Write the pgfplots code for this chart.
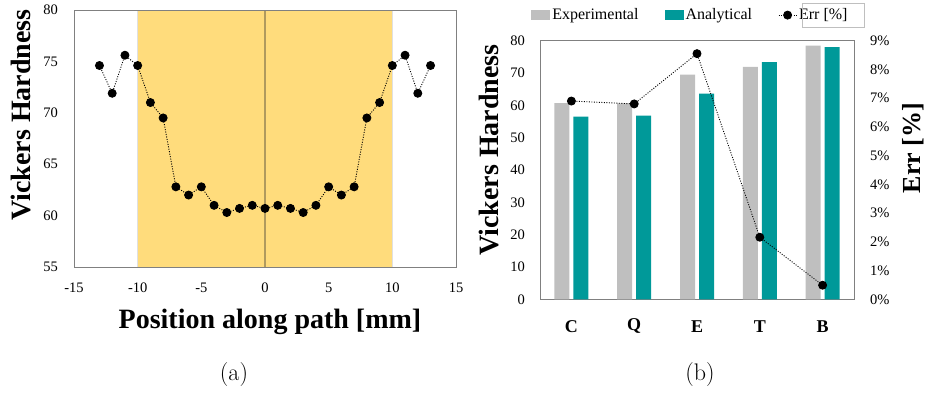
\documentclass[border=0pt]{standalone}
\usepackage{fontspec}
\newfontfamily\cf{Liberation Serif}
\usepackage{pgfplots}
\pgfplotsset{compat=1.18}
\definecolor{shade}{HTML}{FFDC7C}
\definecolor{zline}{HTML}{B09A5E}
\definecolor{expc}{HTML}{BFBFBF}
\definecolor{anac}{HTML}{009999}
\definecolor{framec}{HTML}{808080}
\pgfplotsset{
  common/.style={scale only axis,
    axis line style={draw=framec, line width=0.8pt},
    major tick length=0pt, tick style={draw=none},
    /pgf/number format/assume math mode=true,
    ticklabel style={font=\cf\fontsize{14.5}{14.5}\selectfont, inner sep=0pt}},
  errline/.style={black, dash pattern=on 1pt off 1.5pt, line width=0.9pt,
    mark=*, mark size=4pt, mark options={solid, fill=black}},
  errleg/.style={legend image code/.code={\draw[black, dash pattern=on 1pt off 1.5pt, line width=0.9pt, mark=*, mark size=4pt, mark options={solid, fill=black}, mark repeat=2, mark phase=2] plot coordinates {(0pt,0pt) (9pt,0pt) (18pt,0pt)};}},
}
\begin{document}
\begin{tikzpicture}
\path[use as bounding box] (0pt,0pt) rectangle (926pt,392pt);

% ---------- (a) ----------
\begin{axis}[common, at={(74pt,125pt)}, anchor=south west, width=382pt, height=257pt,
  xmin=-15, xmax=15, ymin=55, ymax=80,
  xtick={-15,-10,...,15}, ytick={55,60,...,80},
  xticklabel style={anchor=center, yshift=-21pt},
  yticklabel style={anchor=east, xshift=-16pt},
  axis on top]
  \addplot[fill=shade, draw=black!12, line width=0.8pt] coordinates {(-10,55) (-10,80) (10,80) (10,55)} -- cycle;
  \addplot[zline, line width=1.5pt] coordinates {(0,55) (0,80)};
  \addplot[errline] coordinates {
    (-13,74.6) (-12,71.9) (-11,75.6) (-10,74.6) (-9,71.0) (-8,69.5)
    (-7,62.8) (-6,62.0) (-5,62.8) (-4,61.0) (-3,60.3) (-2,60.7) (-1,61.0)
    (0,60.7) (1,61.0) (2,60.7) (3,60.3) (4,61.0) (5,62.8) (6,62.0) (7,62.8)
    (8,69.5) (9,71.0) (10,74.6) (11,75.6) (12,71.9) (13,74.6)};
  \draw[black!75, line width=0.9pt] (rel axis cs:0,0) -- (rel axis cs:1,0);
\end{axis}

% ---------- (b) bars ----------
\begin{axis}[common, at={(540pt,92.7pt)}, anchor=south west, width=314pt, height=258.6pt,
  xmin=-0.5, xmax=4.5, ymin=0, ymax=80,
  xtick={0,...,4}, xticklabels={C,Q,E,T,B}, ytick={0,10,...,80},
  xticklabel style={anchor=center, yshift=-27pt, font=\cf\bfseries\fontsize{18}{18}\selectfont},
  yticklabel style={anchor=east, xshift=-15pt},
  legend columns=3,
  legend style={at={(0.479,1.099)}, anchor=center, draw=none, fill=none,
    font=\cf\fontsize{16}{16}\selectfont, cells={anchor=west},
    /tikz/every even column/.append style={column sep=24pt}}]
  \addplot[ybar, fill=expc, draw=none, bar width=15pt, bar shift=-9.5pt,
    legend image code/.code={\fill[expc] (0pt,-5pt) rectangle (19pt,5pt);}]
    coordinates {(0,60.7) (1,60.6) (2,69.5) (3,71.9) (4,78.5)};
  \addlegendentry{Experimental}
  \addplot[ybar, fill=anac, draw=none, bar width=15pt, bar shift=9.5pt,
    legend image code/.code={\fill[anac] (0pt,-5pt) rectangle (19pt,5pt);}]
    coordinates {(0,56.5) (1,56.8) (2,63.6) (3,73.4) (4,78.0)};
  \addlegendentry{Analytical}
  \addlegendimage{errleg}
  \addlegendentry{Err [\%]}
\end{axis}

% ---------- (b) error axis ----------
\begin{axis}[common, at={(540pt,92.7pt)}, anchor=south west, width=314pt, height=258.6pt,
  xmin=-0.5, xmax=4.5, ymin=0, ymax=9,
  axis x line=none, axis y line*=right, ytick={0,...,9},
  yticklabel={\pgfmathprintnumber{\tick}\%},
  yticklabel style={anchor=west, xshift=16pt}]
  \addplot[errline] coordinates {(0,6.9) (1,6.8) (2,8.55) (3,2.16) (4,0.49)};
\end{axis}

\draw[black!25, line width=0.6pt] (802pt,365pt) rectangle (864pt,389pt);

% ---------- labels ----------
\node[rotate=90, font=\cf\bfseries\fontsize{28}{28}\selectfont] at (21pt,277pt) {Vickers Hardness};
\node[anchor=base, font=\cf\bfseries\fontsize{28}{28}\selectfont] at (270pt,63.7pt) {Position along path [mm]};
\node[rotate=90, font=\cf\bfseries\fontsize{28}{28}\selectfont] at (489pt,242pt) {Vickers Hardness};
\node[rotate=90, font=\cf\bfseries\fontsize{26}{26}\selectfont] at (913pt,244pt) {Err [\%]};
\node[font=\fontsize{24}{24}\selectfont] at (234pt,17pt) {(a)};
\node[font=\fontsize{24}{24}\selectfont] at (700pt,17pt) {(b)};
\end{tikzpicture}
\end{document}
